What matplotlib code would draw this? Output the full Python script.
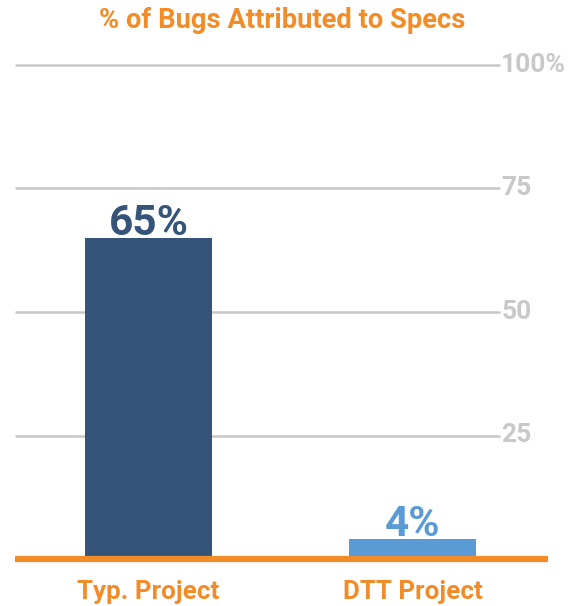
import matplotlib.pyplot as plt

plt.rcParams['font.family'] = ['Roboto', 'DejaVu Sans']

categories = ['Typ. Project', 'DTT Project']
values = [65, 4]
value_labels = ['65%', '4%']
bar_colors = ['#365479', '#5B9BD5']
ticks = [25, 50, 75, 100]
tick_labels = ['25', '50', '75', '100%']

orange = '#F28C28'
grey = '#C8C8C8'

fig = plt.figure(figsize=(5.82, 6.06), dpi=100)
ax = fig.add_axes([15 / 582, 47 / 606, 533 / 582, 494 / 606])

x = [0, 1]
ax.set_xlim(-0.506, 1.513)
ax.set_ylim(0, 100)

# grid lines stop short of the right edge, labels sit after them
grid_end = 1.331
for t, lab in zip(ticks, tick_labels):
    ax.plot([-0.506, grid_end], [t, t], color=grey, lw=1.8, zorder=1,
            clip_on=False, solid_capstyle='butt')
    ax.text(grid_end + 0.005, t, lab, color=grey, fontsize=19,
            fontweight='bold', va='center', ha='left')

ax.bar(x, values, width=0.48, color=bar_colors, zorder=2)

for xi, v, lab, c in zip(x, values, value_labels, bar_colors):
    ax.text(xi, v + 0.6, lab, color=c, fontsize=30.5, fontweight='bold',
            ha='center', va='baseline', zorder=3)

# orange baseline
ax.plot([-0.506, 1.513], [0, 0], color=orange, lw=4.5, zorder=4,
        clip_on=False, solid_capstyle='butt')

for xi, cat in zip(x, categories):
    ax.text(xi, -6.6, cat, color=orange, fontsize=18.7, fontweight='bold',
            ha='center', va='center')

fig.text(282 / 582, 1 - 21 / 606, '% of Bugs Attributed to Specs',
         color=orange, fontsize=19.7, fontweight='bold',
         ha='center', va='center')

for s in ax.spines.values():
    s.set_visible(False)
ax.set_xticks([])
ax.set_yticks([])

fig.savefig('out.png', dpi=100)
